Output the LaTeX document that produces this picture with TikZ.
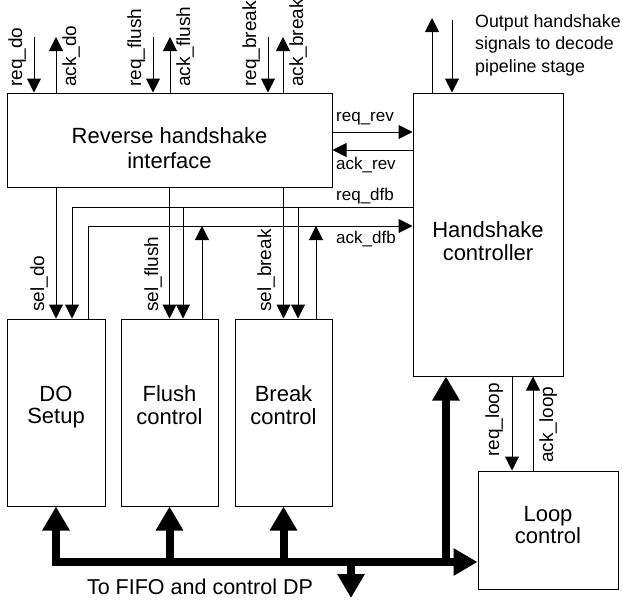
\documentclass[tikz,border=0pt]{standalone}
\usepackage{fontspec}
\setmainfont{Liberation Sans}
\usetikzlibrary{arrows.meta}
\tikzset{
  box/.style={draw, line width=1pt, inner sep=0pt},
  btext/.style={font=\fontsize{22}{22.5}\selectfont, align=center, inner sep=0pt},
  sig/.style={line width=1pt, -{Triangle[length=14pt,width=14pt]}},
  bus/.style={line width=8pt, line join=miter, -{Triangle[length=24pt,width=26pt]}},
  vlab/.style={rotate=90, anchor=base west, inner sep=0pt, font=\fontsize{19}{19}\selectfont},
  hlab/.style={anchor=base west, inner sep=0pt, font=\fontsize{17}{17}\selectfont},
}
\begin{document}
\begin{tikzpicture}[x=1pt,y=-1pt]
\useasboundingbox (0,0) rectangle (623,600);

% boxes
\node[box, minimum width=325pt, minimum height=94pt] (rhi) at (169.5,140) {};
\node[box, minimum width=150pt, minimum height=283pt] (hc) at (488,234.5) {};
\node[box, minimum width=98pt, minimum height=187pt] (dobox) at (56,412.5) {};
\node[box, minimum width=97pt, minimum height=187pt] (flush) at (169.5,412.5) {};
\node[box, minimum width=97pt, minimum height=187pt] (brk) at (283.5,412.5) {};
\node[box, minimum width=140pt, minimum height=118pt] (loop) at (548,530) {};

% box texts
\node[btext, font=\fontsize{22}{25}\selectfont] (rhiT) at (169.5,148) {Reverse handshake\\interface};
\node[btext] (hcT) at (488,241) {Handshake\\controller};
\node[btext] (doT) at (56,407) {DO\\Setup};
\node[btext] (flT) at (169.5,405) {Flush\\control};
\node[btext] (brT) at (283.5,405) {Break\\control};
\node[btext] (lpT) at (548,525) {Loop\\control};

% top signals of reverse handshake interface
\coordinate (tReqDo) at (34,37);
\coordinate (tAckDo) at (56,37);
\coordinate (tReqFl) at (153,37);
\coordinate (tAckFl) at (170,37);
\coordinate (tReqBr) at (268,37);
\coordinate (tAckBr) at (283,37);
\draw[sig] (tReqDo) -- (tReqDo |- rhi.north);
\draw[sig] (tAckDo |- rhi.north) -- (tAckDo);
\draw[sig] (tReqFl) -- (tReqFl |- rhi.north);
\draw[sig] (tAckFl |- rhi.north) -- (tAckFl);
\draw[sig] (tReqBr) -- (tReqBr |- rhi.north);
\draw[sig] (tAckBr |- rhi.north) -- (tAckBr);
\node[vlab] (lReqDo) at (22,87) {req\_do};
\node[vlab] (lAckDo) at (76,87) {ack\_do};
\node[vlab] (lReqFl) at (141,87) {req\_flush};
\node[vlab] (lAckFl) at (190,87) {ack\_flush};
\node[vlab] (lReqBr) at (256,87) {req\_break};
\node[vlab] (lAckBr) at (303,87) {ack\_break};

% top signals of handshake controller
\coordinate (tOutUp) at (432,18);
\coordinate (tOutDn) at (452,20);
\draw[sig] (tOutUp |- hc.north) -- (tOutUp);
\draw[sig] (tOutDn) -- (tOutDn |- hc.north);
\node[anchor=north west, align=left, inner sep=0pt, font=\fontsize{17.8}{22.5}\selectfont] (outT) at (475,14) {Output handshake\\signals to decode\\pipeline stage};

% rev handshake
\coordinate (yRev) at (0,132);
\coordinate (yAckRev) at (0,150);
\draw[sig] (rhi.east |- yRev) -- (hc.west |- yRev);
\draw[sig] (hc.west |- yAckRev) -- (rhi.east |- yAckRev);
\node[hlab] (lReqRev) at (336,121.5) {req\_rev};
\node[hlab] (lAckRev) at (336,169) {ack\_rev};

% sel lines
\draw[sig] (rhi.south -| dobox.north) -- (dobox.north);
\draw[sig] (rhi.south -| flush.north) -- (flush.north);
\draw[sig] (rhi.south -| brk.north) -- (brk.north);
\node[vlab] (lSelDo) at (44,312) {sel\_do};
\node[vlab] (lSelFl) at (158,312) {sel\_flush};
\node[vlab] (lSelBr) at (271,312) {sel\_break};

% req_dfb
\coordinate (rdL) at (72,207);
\coordinate (rdF) at (183,207);
\coordinate (rdB) at (298,207);
\draw[sig] (hc.west |- rdL) -- (rdL) -- (rdL |- dobox.north);
\draw[sig] (rdF) -- (rdF |- flush.north);
\draw[sig] (rdB) -- (rdB |- brk.north);
\node[hlab] (lReqDfb) at (336,200) {req\_dfb};

% ack_dfb
\coordinate (adL) at (88,226);
\coordinate (adF) at (202,226);
\coordinate (adB) at (316,226);
\draw[sig] (adL |- dobox.north) -- (adL) -- (hc.west |- adL);
\draw[sig] (adF |- flush.north) -- (adF);
\draw[sig] (adB |- brk.north) -- (adB);
\node[hlab] (lAckDfb) at (336,243) {ack\_dfb};

% loop signals
\coordinate (xRL) at (512,0);
\coordinate (xAL) at (533,0);
\draw[sig] (hc.south -| xRL) -- (loop.north -| xRL);
\draw[sig] (loop.north -| xAL) -- (hc.south -| xAL);
\node[vlab] (lReqLoop) at (499,457) {req\_loop};
\node[vlab] (lAckLoop) at (553,463) {ack\_loop};

% bus
\coordinate (busL) at (56,562);
\coordinate (busV) at (446,566);
\coordinate (busD) at (351,562);
\coordinate (fifoOut) at (351,598);
\draw[bus, {Triangle[length=24pt,width=26pt]}-{Triangle[length=24pt,width=26pt]}] (dobox.south) -- (busL) -- (loop.west |- busL);
\draw[bus] (busL -| flush.south) -- (flush.south);
\draw[bus] (busL -| brk.south) -- (brk.south);
\draw[bus] (busV) -- (busV |- hc.south);
\draw[bus] (busD) -- (fifoOut);
\node[anchor=base, inner sep=0pt, font=\fontsize{21.5}{22}\selectfont] (fifoT) at (200,594) {To FIFO and control DP};
\end{tikzpicture}
\end{document}
